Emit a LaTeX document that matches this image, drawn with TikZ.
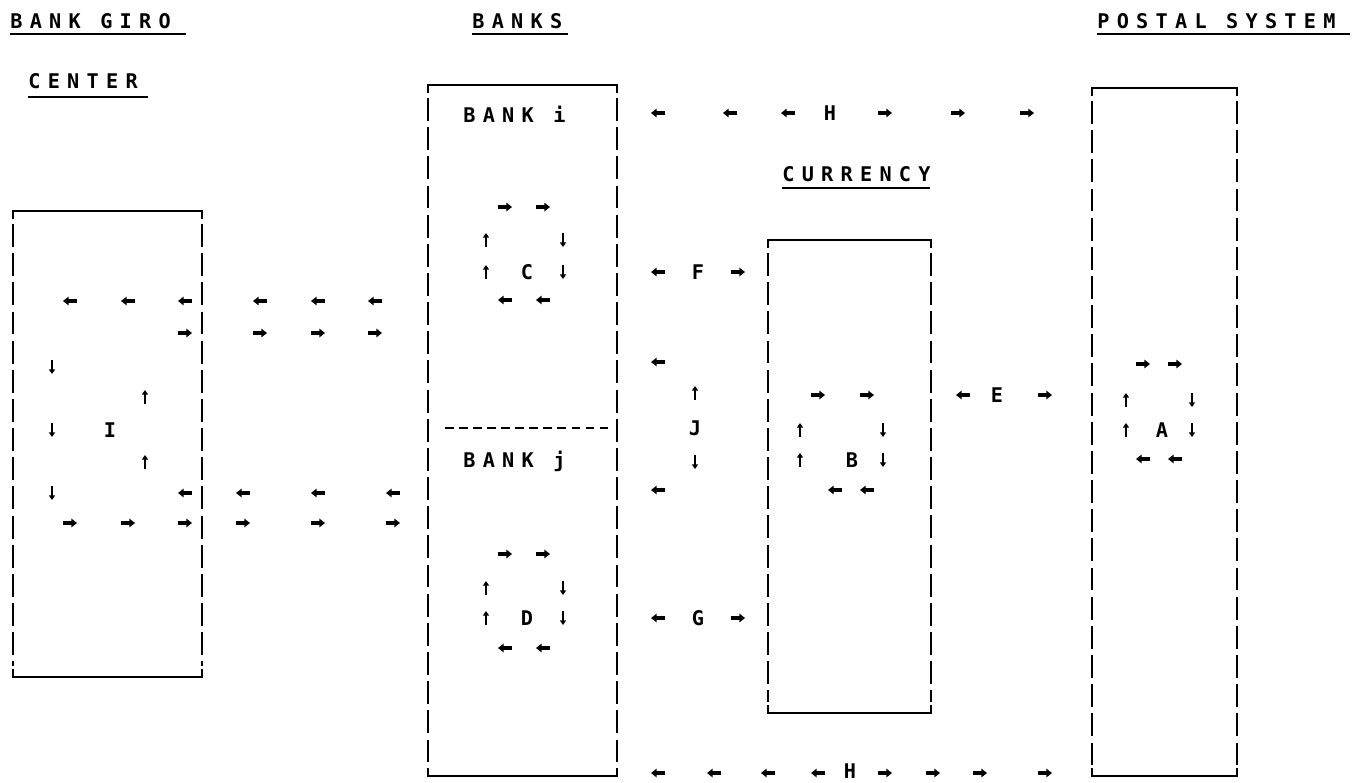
\documentclass[tikz,border=0pt]{standalone}
\usepackage{fontspec}
\usetikzlibrary{arrows.meta}
\newfontfamily\twls[LetterSpace=36]{DejaVu Sans Mono Bold}
\newfontfamily\twone{DejaVu Sans Mono Bold}
\newcommand\arL[2]{\draw[harr] (#1+7,#2) -- (#1-7,#2);}
\newcommand\arR[2]{\draw[harr] (#1-7,#2) -- (#1+7,#2);}
\newcommand\arU[2]{\draw[varr] (#1,#2+7) -- (#1,#2-7);}
\newcommand\arD[2]{\draw[varr] (#1,#2-7) -- (#1,#2+7);}
\newcommand\drawpanel[4]{% L R T B
  \draw[edge] (#1,#3+8) -- (#1,#3) -- (#2,#3) -- (#2,#3+8);
  \draw[edge] (#1,#4-8) -- (#1,#4) -- (#2,#4) -- (#2,#4-8);
  \draw[side] (#1,#3+13) -- (#1,#4-11);
  \draw[side] (#2,#3+13) -- (#2,#4-11);}
\begin{document}
\begin{tikzpicture}[x=0.02cm,y=-0.02cm,
  lbl/.style={font=\twls\fontsize{11.5}{13}\selectfont, inner sep=0pt, anchor=base west},
  let/.style={font=\twone\fontsize{11.5}{13}\selectfont, inner sep=0pt, anchor=center},
  ul/.style={line width=1.4pt},
  side/.style={line width=0.9pt, dash pattern=on 13pt off 3.6pt},
  edge/.style={line width=1.4pt},
  sep/.style={line width=1.3pt, dash pattern=on 5pt off 3pt},
  harr/.style={line width=1.8pt, -{Triangle[length=3.2pt,width=4.8pt]}},
  varr/.style={line width=1pt, -{Triangle[length=2.6pt,width=3.4pt]}},
]
\useasboundingbox (0,0) rectangle (1357,782);

% headings
\node[lbl] (hgiro) at (10,28) {BANK GIRO};
\draw[ul] (10,34) -- (186,34);
\node[lbl] (hcenter) at (28,88) {CENTER};
\draw[ul] (28,97) -- (148,97);
\node[lbl] (hbanks) at (472,28) {BANKS};
\draw[ul] (472,34) -- (568,34);
\node[lbl] (hpostal) at (1097,28) {POSTAL SYSTEM};
\draw[ul] (1097,34) -- (1350,34);
\node[lbl] (hcurr) at (782,181) {CURRENCY};
\draw[ul] (782,188) -- (930,188);

% boxes
\drawpanel{13}{202}{211}{677}
\drawpanel{428}{617}{85}{776}
\drawpanel{768}{931}{240}{713}
\drawpanel{1092}{1237}{88}{776}
\draw[sep] (445,428) -- (612,428);
\node[lbl] (bi) at (463,122) {BANK i};
\node[lbl] (bj) at (463,467) {BANK j};

% giro centre
\arL{70}{301}\arL{128}{301}\arL{185}{301}\arR{185}{333}
\arL{260}{301}\arL{318}{301}\arL{375}{301}
\arR{260}{333}\arR{318}{333}\arR{375}{333}
\arD{52}{367}\arU{145}{397}\arD{52}{430}\arU{145}{462}\arD{52}{493}
\node[let] (lI) at (110,430) {I};
\arL{185}{493}
\arR{70}{523}\arR{128}{523}\arR{185}{523}
\arL{243}{493}\arL{318}{493}\arL{393}{493}
\arR{243}{523}\arR{318}{523}\arR{393}{523}

% bank i cycle C
\arR{505}{207}\arR{543}{207}
\arU{486}{240}\arD{563}{240}
\arU{486}{272}\arD{563}{272}
\node[let] (lC) at (527,272) {C};
\arL{505}{300}\arL{543}{300}
% F
\arL{658}{272}\node[let] (lF) at (698,272) {F};\arR{738}{272}
% J
\arL{658}{362}\arU{695}{393}
\node[let] (lJ) at (695,428) {J};
\arD{695}{462}\arL{658}{490}
% bank j cycle D
\arR{505}{554}\arR{543}{554}
\arU{486}{588}\arD{563}{588}
\arU{486}{618}\arD{563}{618}
\node[let] (lD) at (527,618) {D};
\arL{505}{648}\arL{543}{648}
% G
\arL{658}{618}\node[let] (lG) at (698,618) {G};\arR{738}{618}

% H top
\arL{658}{113}\arL{730}{113}\arL{788}{113}
\node[let] (lH1) at (830,113) {H};
\arR{885}{113}\arR{958}{113}\arR{1027}{113}
% H bottom
\arL{658}{773}\arL{714}{773}\arL{768}{773}\arL{818}{773}
\node[let] (lH2) at (850,771) {H};
\arR{885}{773}\arR{933}{773}\arR{980}{773}\arR{1045}{773}

% currency cycle B
\arR{818}{395}\arR{867}{395}
\arU{800}{430}\arD{883}{430}
\arU{800}{460}\arD{883}{460}
\node[let] (lB) at (852,460) {B};
\arL{835}{490}\arL{867}{490}
% E
\arL{963}{395}\node[let] (lE) at (997,395) {E};\arR{1045}{395}
% postal cycle A
\arR{1143}{364}\arR{1175}{364}
\arU{1126}{400}\arD{1192}{400}
\arU{1126}{430}\arD{1192}{430}
\node[let] (lA) at (1162,430) {A};
\arL{1143}{459}\arL{1175}{459}
\end{tikzpicture}
\end{document}
